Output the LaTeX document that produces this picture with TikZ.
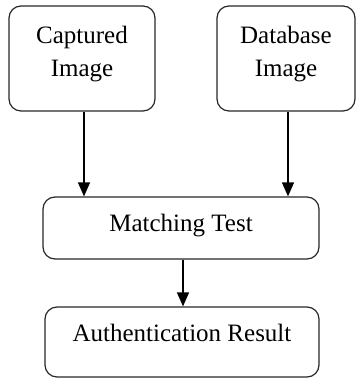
\documentclass[tikz,border=0pt]{standalone}
\usepackage{fontspec}
\setmainfont{Liberation Serif}
\usepackage{tikz}
\usetikzlibrary{arrows.meta}
\definecolor{edge}{HTML}{262626}
\definecolor{ink}{HTML}{000000}
\tikzset{
  box/.style={draw=edge, line width=1.2pt, rounded corners=12pt, align=center, text=ink, inner sep=0pt, font=\fontsize{25}{33}\selectfont},
  flow/.style={draw=ink, line width=1.3pt, -{Triangle[length=14pt, width=12pt]}},
}
\begin{document}
\begin{tikzpicture}[x=1pt, y=-1pt]
  \useasboundingbox (0,0) rectangle (357,378);

  % inputs
  \node[box, minimum width=146pt, minimum height=105pt, text depth=14pt] (cap) at (82,58.5) {Captured\\Image};
  \node[box, minimum width=138pt, minimum height=105pt, text depth=14pt] (db) at (286,58.5) {Database\\Image};

  % matching and result
  \node[box, minimum width=276pt, minimum height=62pt, text height=17pt, text depth=11pt] (match) at (181,228) {Matching Test};
  \node[box, minimum width=274pt, minimum height=70pt, text height=17pt, text depth=19pt] (auth) at (182,342) {Authentication Result};

  % arrows
  \draw[flow] ([xshift=2pt]cap.south) -- ([xshift=2pt]cap.south |- match.north);
  \draw[flow] ([xshift=2pt]db.south) -- ([xshift=2pt]db.south |- match.north);
  \draw[flow] ([xshift=2pt]match.south) -- ([xshift=2pt]match.south |- auth.north);
\end{tikzpicture}
\end{document}
